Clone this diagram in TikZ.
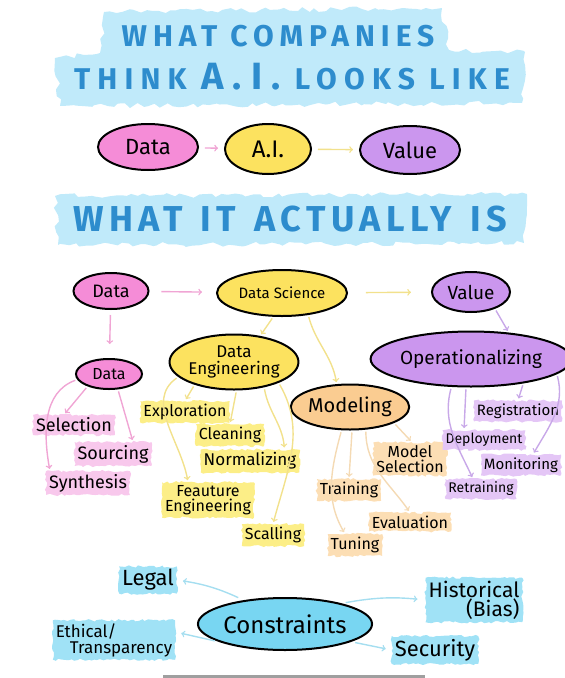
\documentclass[tikz,border=0pt]{standalone}
\usepackage{fontspec}
\setmainfont{Fira Sans}
\usetikzlibrary{shapes.geometric,decorations.pathmorphing}

\definecolor{titleblue}{RGB}{45,140,205}
\definecolor{brushblue}{RGB}{192,234,250}
\definecolor{pinkfill}{RGB}{245,140,215}
\definecolor{pinklight}{RGB}{248,200,236}
\definecolor{pinkline}{RGB}{240,165,212}
\definecolor{yellowfill}{RGB}{252,226,95}
\definecolor{yellowlight}{RGB}{252,238,135}
\definecolor{yellowline}{RGB}{242,225,140}
\definecolor{purplefill}{RGB}{203,150,238}
\definecolor{purplelight}{RGB}{228,198,246}
\definecolor{purpleline}{RGB}{200,168,232}
\definecolor{peachfill}{RGB}{250,204,145}
\definecolor{peachlight}{RGB}{252,222,180}
\definecolor{peachline}{RGB}{244,218,180}
\definecolor{cyanfill}{RGB}{120,214,242}
\definecolor{cyanlight}{RGB}{160,226,246}
\definecolor{cyanline}{RGB}{165,222,240}

\newcommand\fsz[1]{\fontsize{#1}{#1}\selectfont}

\begin{document}
\pgfmathsetseed{7}
\begin{tikzpicture}[
  x=1pt, y=-1pt,
  every node/.style={align=center},
  bubble/.style={ellipse, draw, line width=2pt, inner sep=0pt},
  heading/.style 2 args={text=titleblue, font=\bfseries\fsz{#1}\addfontfeatures{LetterSpace=#2}},
  brush/.style={fill=brushblue, decorate, decoration={random steps, segment length=6pt, amplitude=2.5pt}},
  leaf/.style={fill=#1, inner sep=3pt, decorate, decoration={random steps, segment length=3pt, amplitude=1.2pt}},
  link/.style={->, line width=1.4pt, color=#1, shorten <=2pt, shorten >=2pt}
]
\useasboundingbox (0,0) rectangle (565,678);

% Title bands
\fill[brush] (104,12) -- (442,8) -- (449,50) -- (525,52) -- (522,103) -- (60,106) -- (55,58) -- (100,53) -- cycle;
\fill[brush] (55,196) -- (527,194) -- (524,243) -- (58,245) -- cycle;

\node[heading={30}{20}] (head1) at (278,36) {WHAT COMPANIES};
\node[heading={30}{24}] (head2) at (292,77) {THINK {\fsz{38}A.I.} LOOKS LIKE};
\node[heading={36}{15}] (head3) at (290,219) {WHAT\enspace IT\enspace ACTUALLY\enspace IS};

% What companies think
\node[bubble, fill=pinkfill, minimum width=100, minimum height=46, font=\fsz{22}] (data) at (148,147) {Data};
\node[bubble, fill=yellowfill, minimum width=86, minimum height=50, font=\fsz{24}] (ai) at (268,149) {A.I.};
\node[bubble, fill=purplefill, minimum width=100, minimum height=48, font=\fsz{22}] (value) at (410,150) {Value};

\draw[link=pinkline, shorten <=6pt, shorten >=6pt] (data) -- (ai);
\draw[link=yellowline, shorten <=6pt, shorten >=6pt] (ai) -- (value);

% What it actually is
\node[bubble, fill=pinkfill, minimum width=75, minimum height=36, font=\fsz{18}] (data2) at (111,291) {Data};
\node[bubble, fill=yellowfill, minimum width=130, minimum height=46, font=\fsz{15}] (dsci) at (282,293) {Data Science};
\node[bubble, fill=purplefill, minimum width=78, minimum height=40, font=\fsz{19}] (value2) at (471,292) {Value};
\node[bubble, fill=pinkfill, minimum width=66, minimum height=30, font=\fsz{16}] (dsub) at (109,374) {Data};
\node[bubble, fill=yellowfill, minimum width=125, minimum height=55, font=\fontsize{17}{17}\selectfont] (de) at (234,362) {Data\\Engineering};
\node[bubble, fill=peachfill, minimum width=115, minimum height=45, font=\fsz{20}] (mod) at (350,407) {Modeling};
\node[bubble, fill=purplefill, minimum width=178, minimum height=55, font=\fsz{19}] (op) at (471,359) {Operationalizing};

\draw[link=pinkline, shorten <=12pt, shorten >=14pt] (data2) -- (dsci);
\draw[link=yellowline, shorten <=18pt, shorten >=20pt] (dsci) -- (value2);
\draw[link=pinkline, shorten <=5pt, shorten >=14pt] (data2) -- (dsub);
\draw[link=yellowline] (dsci.250) -- (de.45);
\draw[link=yellowline] (dsci.-40) to[out=-75, in=100] (mod.120);
\draw[link=purpleline] (value2.-35) -- (op.35);

% Data leaves
\node[leaf=pinklight, font=\fsz{18}] (sel) at (74,425) {Selection};
\node[leaf=pinklight, font=\fsz{18}] (sourc) at (113,454) {Sourcing};
\node[leaf=pinklight, font=\fsz{18}] (synth) at (88,483) {Synthesis};

\draw[link=pinkline] (dsub.-150) -- ([xshift=-10]sel.north);
\draw[link=pinkline] (dsub.-60) -- ([xshift=20]sourc.north);
\draw[link=pinkline] (dsub.190) to[out=200, in=100] ([xshift=4]synth.north west);

% Data engineering leaves
\node[leaf=yellowlight, font=\fsz{16}] (explor) at (185,412) {Exploration};
\node[leaf=yellowlight, font=\fsz{16}] (clean) at (230,435) {Cleaning};
\node[leaf=yellowlight, font=\fsz{17}] (norm) at (250,461) {Normalizing};
\node[leaf=yellowlight, font=\fontsize{16}{15}\selectfont] (feat) at (208,500) {Feauture\\Engineering};
\node[leaf=yellowlight, font=\fsz{16}] (scal) at (273,535) {Scalling};

\draw[link=yellowline] (de.-150) -- (explor.north);
\draw[link=yellowline] (de.-85) -- (clean.north);
\draw[link=yellowline] (de.-40) to[out=-80, in=95] ([xshift=-15]norm.north east);
\draw[link=yellowline] (de.-165) to[out=215, in=100] ([xshift=-20]feat.north);
\draw[link=yellowline] (de.-25) to[out=-60, in=75] (scal.north);

% Modeling leaves
\node[leaf=peachlight, font=\fontsize{16}{15}\selectfont] (msel) at (410,459) {Model\\Selection};
\node[leaf=peachlight, font=\fsz{16}] (train) at (349,490) {Training};
\node[leaf=peachlight, font=\fsz{16}] (eval) at (410,522) {Evaluation};
\node[leaf=peachlight, font=\fsz{16}] (tune) at (355,545) {Tuning};

\draw[link=peachline] (mod.-20) -- ([xshift=2]msel.north);
\draw[link=peachline] (mod.-85) -- (train.north);
\draw[link=peachline] (mod.-55) to[out=-90, in=125] (eval.north);
\draw[link=peachline] (mod.-110) to[out=-105, in=120] ([xshift=-10]tune.north);

% Operationalizing leaves
\node[leaf=purplelight, font=\fsz{15}] (regis) at (518,411) {Registration};
\node[leaf=purplelight, font=\fsz{14}] (deploy) at (484,440) {Deployment};
\node[leaf=purplelight, font=\fsz{15}] (monit) at (521,465) {Monitoring};
\node[leaf=purplelight, font=\fsz{14}] (retrain) at (481,489) {Retraining};

\draw[link=purpleline] (op.-25) -- (regis.north);
\draw[link=purpleline] (op.-100) -- ([xshift=-20]deploy.north);
\draw[link=purpleline] (op.-10) to[out=-75, in=60] ([xshift=12]monit.north);
\draw[link=purpleline] (op.-125) to[out=-105, in=115] ([xshift=-8]retrain.north);

% Constraints
\node[bubble, fill=cyanfill, minimum width=135, minimum height=52, font=\fsz{24}] (cons) at (285,624) {Constraints};
\node[leaf=cyanlight, font=\fsz{22}] (legal) at (148,580) {Legal};
\node[leaf=cyanlight, font=\fontsize{17}{16}\selectfont, align=left] (ethic) at (114,640) {Ethical/\\\hspace{14pt}Transparency};
\node[leaf=cyanlight, font=\fontsize{21}{19}\selectfont, align=right] (hist) at (474,600) {Historical\\(Bias)};
\node[leaf=cyanlight, font=\fsz{22}] (secu) at (435,650) {Security};

\draw[link=cyanline, shorten <=6pt, shorten >=6pt] (cons.150) to[bend right=8] (legal.east);
\draw[link=cyanline, shorten <=4pt, shorten >=6pt] (cons.195) -- ([yshift=8]ethic.east);
\draw[link=cyanline, shorten <=4pt, shorten >=8pt] (cons.20) to[bend left=8] (hist.west);
\draw[link=cyanline, shorten <=4pt, shorten >=6pt] (cons.-15) -- (secu.west);

% Bottom rule
\fill[gray!75] (163,675) rectangle (425,678);
\end{tikzpicture}
\end{document}
